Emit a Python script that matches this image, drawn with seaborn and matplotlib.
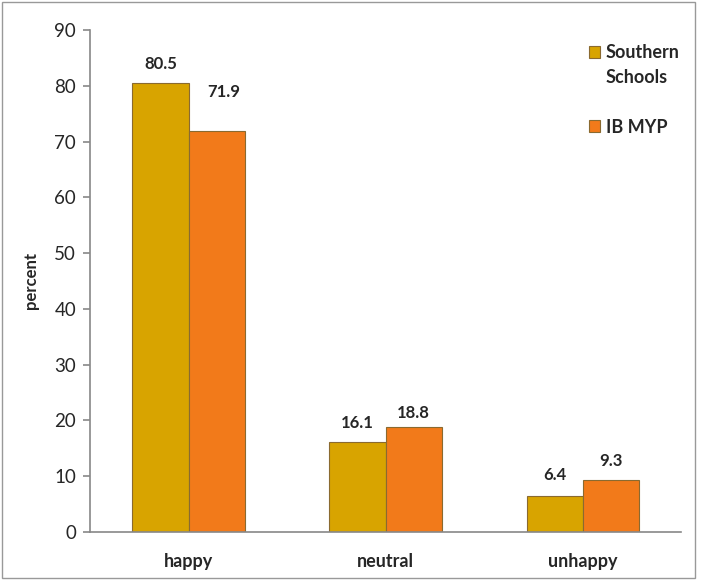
import pandas as pd
import seaborn as sns
import matplotlib.pyplot as plt
from matplotlib.patches import Rectangle
from matplotlib.legend_handler import HandlerPatch

# data
categories = ['happy', 'neutral', 'unhappy']
southern = [80.5, 16.1, 6.4]
ib_myp = [71.9, 18.8, 9.3]
series_names = ['Southern\nSchools', 'IB MYP']

df = pd.DataFrame({
    'mood': categories * 2,
    'group': [series_names[0]] * 3 + [series_names[1]] * 3,
    'percent': southern + ib_myp,
})

sns.set_style('white')
plt.rcParams['font.family'] = ['Lato', 'DejaVu Sans']

fig = plt.figure(figsize=(7.03, 5.8), dpi=100)
ax = fig.add_axes([0.128, 0.0828, 0.841, 0.8655])

palette = {series_names[0]: '#D8A400', series_names[1]: '#F27A1A'}
sns.barplot(data=df, x='mood', y='percent', hue='group', palette=palette,
            width=0.57, saturation=1, edgecolor='#8a6a30', linewidth=0.8, ax=ax)

# value labels, offsets in points (the 71.9 label sits high and to the right in the original)
label_offsets = [[(0, 14), (0, 14), (0, 15)],
                 [(5, 28), (0, 10), (0, 14)]]
for cont, offs in zip(ax.containers, label_offsets):
    for bar, (dx, dy) in zip(cont, offs):
        h = bar.get_height()
        ax.annotate(f'{h:.1f}', xy=(bar.get_x() + bar.get_width() / 2, h),
                    xytext=(dx, dy), textcoords='offset points',
                    ha='center', va='center', fontsize=12, fontweight='bold')

ax.set_ylim(0, 90)
ax.set_yticks(range(0, 91, 10))
ax.set_xlim(-0.5, 2.5)
ax.set_xticks([-0.5, 0.5, 1.5, 2.5], minor=False)
ax.set_xticklabels([])
ax.set_xticks([0, 1, 2], minor=True)
ax.set_xticklabels(categories, minor=True, fontsize=13, fontweight='bold')
ax.tick_params(axis='x', which='minor', length=0, pad=15)
ax.tick_params(axis='x', which='major', length=5, width=1.2, color='#888888', direction='out')
ax.tick_params(axis='y', length=5, width=1.2, color='#888888', direction='out',
               labelsize=13.5, left=True, pad=5)
ax.set_xlabel('')
ax.set_ylabel('percent', fontsize=12, fontweight='bold', labelpad=11)

for side in ['top', 'right']:
    ax.spines[side].set_visible(False)
for side in ['left', 'bottom']:
    ax.spines[side].set_color('#888888')
    ax.spines[side].set_linewidth(1.2)


# legend square sits on the first line of a two-line label
def top_square(legend, orig_handle, xdescent, ydescent, width, height, fontsize):
    return Rectangle((-xdescent, -ydescent + 0.75 * fontsize), width, height)


def plain_square(legend, orig_handle, xdescent, ydescent, width, height, fontsize):
    return Rectangle((-xdescent, -ydescent), width, height)


handles, labels = ax.get_legend_handles_labels()
hmap = {handles[0]: HandlerPatch(patch_func=top_square),
        handles[1]: HandlerPatch(patch_func=plain_square)}
leg = ax.legend(handles, labels, handler_map=hmap, loc='upper right',
                bbox_to_anchor=(1.025, 1.005), frameon=False,
                prop={'weight': 'bold', 'size': 13}, handlelength=0.65,
                handleheight=0.65, handletextpad=0.3, labelspacing=1.8)
for t in leg.get_texts():
    t.set_linespacing(1.6)

# thin frame around the whole picture
fig.patches.append(Rectangle((0.003, 0.003), 0.985, 0.994, transform=fig.transFigure,
                             fill=False, edgecolor='#999999', linewidth=1))

plt.savefig('out.png', dpi=100)
plt.close()
